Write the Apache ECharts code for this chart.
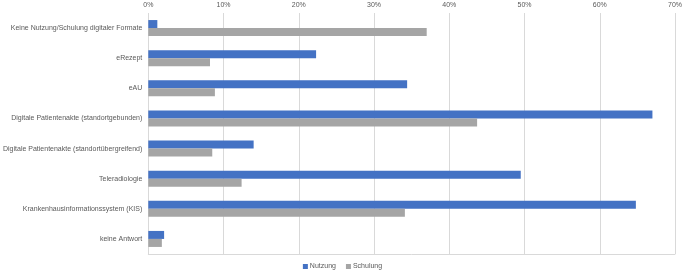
<!DOCTYPE html>
<html>
<head>
<meta charset="utf-8">
<script src="https://cdn.jsdelivr.net/npm/echarts@6/dist/echarts.min.js"></script>
<style>
  html, body { margin: 0; padding: 0; background: #fff; }
  #chart { width: 685px; height: 275px; }
</style>
</head>
<body>
<div id="chart"></div>
<script>
// Kategorien (von oben nach unten)
var categories = [
    'Keine Nutzung/Schulung digitaler Formate',
    'eRezept',
    'eAU',
    'Digitale Patientenakte (standortgebunden)',
    'Digitale Patientenakte (standortübergreifend)',
    'Teleradiologie',
    'Krankenhausinformationssystem (KIS)',
    'keine Antwort'
];
// Werte in %
var nutzung = [1.2, 22.3, 34.4, 67.0, 14.0, 49.5, 64.8, 2.1];
var schulung = [37.0, 8.2, 8.85, 43.7, 8.5, 12.4, 34.1, 1.8];

var chart = echarts.init(document.getElementById('chart'));

var option = {
    animation: false,
    textStyle: { fontFamily: 'Liberation Sans, Arial, sans-serif' },
    grid: { left: 148, right: 6, top: 13, bottom: 21, containLabel: false },
    legend: {
        bottom: 0,
        left: 'center',
        itemWidth: 5,
        itemHeight: 5,
        itemGap: 10,
        icon: 'rect',
        textStyle: { color: '#595959', fontSize: 7, padding: [0, 0, 0, -3] },
        data: ['Nutzung', 'Schulung']
    },
    xAxis: [
        {
            type: 'value',
            position: 'top',
            min: 0,
            max: 70,
            interval: 10,
            axisLine: { show: false },
            axisTick: { show: false },
            axisLabel: { color: '#595959', fontSize: 7, margin: 4, formatter: '{value}%' },
            splitLine: { lineStyle: { color: '#D9D9D9', width: 1 } }
        },
        {
            type: 'value',
            position: 'bottom',
            min: 0,
            max: 70,
            axisLine: { show: true, lineStyle: { color: '#D9D9D9' } },
            axisTick: { show: false },
            axisLabel: { show: false },
            splitLine: { show: false }
        }
    ],
    yAxis: {
        type: 'category',
        inverse: true,
        data: categories,
        axisLine: { show: false },
        axisTick: { show: false },
        axisLabel: { color: '#595959', fontSize: 7, margin: 6 }
    },
    series: [
        {
            name: 'Nutzung',
            type: 'bar',
            data: nutzung,
            barWidth: 8,
            barGap: '0%',
            itemStyle: { color: '#4472C4' }
        },
        {
            name: 'Schulung',
            type: 'bar',
            data: schulung,
            barWidth: 8,
            barGap: '0%',
            itemStyle: { color: '#A5A5A5' }
        }
    ]
};

chart.setOption(option);
</script>
</body>
</html>
